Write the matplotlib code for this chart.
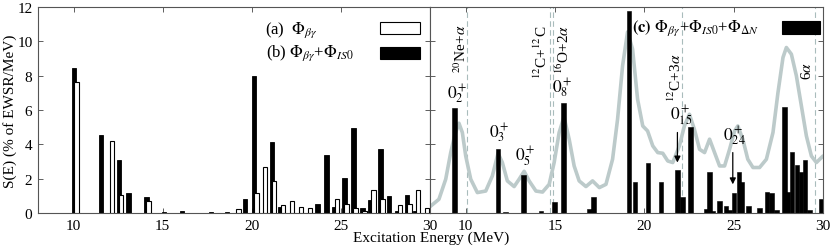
import matplotlib
matplotlib.use("Agg")
import matplotlib.pyplot as plt
from matplotlib.patches import Rectangle

plt.rcParams['font.family'] = ['Liberation Serif', 'DejaVu Serif']
plt.rcParams['mathtext.fontset'] = 'stix'

# ---- panel (a)/(b) data ----
a_E = [10.16, 12.15, 12.67, 14.19, 19.24, 20.25, 20.75, 21.26, 21.76, 22.26, 22.76, 23.27,
       24.79, 25.31, 25.82, 26.33, 26.82, 27.33, 28.33, 28.84, 29.33, 29.83]
a_S = [7.61, 4.17, 1.05, 0.68, 0.23, 1.16, 2.66, 1.84, 0.45, 0.68, 0.33, 0.29,
       0.81, 0.50, 0.31, 0.14, 1.34, 0.80, 0.47, 0.50, 1.34, 0.29]
b_E = [10.03, 11.55, 12.56, 13.07, 14.08, 15.08, 16.09, 17.71, 18.61, 19.62, 20.13, 21.13,
       21.57, 23.68, 24.19, 24.60, 25.19, 25.70, 26.20, 26.63, 27.21, 27.71, 28.15, 28.72, 29.15]
b_S = [8.43, 4.52, 3.11, 1.16, 0.95, 0.08, 0.10, 0.05, 0.05, 0.81, 7.96, 4.13,
       0.33, 0.50, 3.40, 0.35, 2.04, 4.97, 0.27, 0.74, 3.71, 0.99, 0.10, 1.03, 0.10]

# ---- panel (c) data ----
c_E = [9.38, 11.80, 12.22, 13.24, 14.20, 14.96, 15.47, 16.93, 17.14, 19.14, 19.48, 20.20,
       20.93, 21.86, 22.13, 22.58, 23.46, 23.65, 23.85, 24.21, 24.56, 24.77, 25.01, 25.31,
       25.44, 25.82, 26.45, 26.86, 27.13, 27.39, 27.84, 28.04, 28.26, 28.54, 28.77, 29.00,
       29.24, 29.92]
c_S = [6.10, 3.75, 0.05, 2.20, 0.10, 0.62, 6.43, 0.25, 0.92, 11.78, 1.81, 2.94,
       1.83, 2.53, 0.96, 5.01, 0.25, 2.41, 0.10, 0.68, 0.39, 0.15, 1.19, 2.39,
       1.81, 0.39, 0.27, 1.22, 1.17, 0.15, 6.16, 1.22, 3.54, 2.78, 2.37, 3.07,
       0.20, 0.80]

curve_E = [8.0, 8.5, 8.88, 9.16, 9.40, 9.62, 9.81, 10.0, 10.28, 10.65, 11.12, 11.49, 11.81,
           12.05, 12.33, 12.71, 12.99, 13.27, 13.55, 13.93, 14.30, 14.67, 14.95, 15.23, 15.50,
           15.79, 16.07, 16.35, 16.73, 17.10, 17.48, 17.85, 18.22, 18.50, 18.78, 19.06, 19.34,
           19.62, 19.91, 20.18, 20.47, 20.75, 21.03, 21.31, 21.59, 21.96, 22.24, 22.52, 22.80,
           23.09, 23.37, 23.65, 23.93, 24.21, 24.49, 24.77, 25.05, 25.23, 25.51, 25.79, 26.08,
           26.45, 26.83, 27.20, 27.48, 27.76, 27.95, 28.23, 28.51, 28.79, 29.07, 29.35, 29.63, 30.0]
curve_S = [0.37, 0.80, 1.97, 3.52, 4.59, 5.23, 4.69, 3.32, 1.97, 1.19, 1.28, 2.16, 3.48,
           2.94, 1.87, 1.54, 1.97, 2.43, 1.87, 1.28, 1.22, 1.67, 2.94, 4.69, 5.60,
           4.30, 2.74, 1.87, 1.54, 1.87, 1.48, 1.67, 3.13, 5.46, 8.57, 10.55, 9.54,
           6.63, 5.07, 4.78, 3.91, 3.52, 3.48, 3.03, 2.94, 3.91, 5.07, 5.75, 4.88,
           3.71, 3.52, 4.30, 3.52, 2.74, 2.74, 3.71, 4.78, 5.07, 4.30, 3.13, 2.65,
           2.65, 3.13, 4.69, 7.02, 9.06, 9.64, 9.25, 7.99, 6.24, 4.49, 3.32, 2.94, 3.32]

thresh_E = [10.05, 14.72, 14.87, 22.11, 29.53]
thresh_labels = [r'$^{20}$Ne+$\alpha$', r'$^{12}$C+$^{12}$C', r'$^{16}$O+2$\alpha$',
                 r'$^{12}$C+3$\alpha$', r'6$\alpha$']
thresh_label_E = [9.72, 14.22, 15.47, 21.72, 29.1]
thresh_label_S = [9.6, 9.4, 9.6, 7.95, 8.35]

state_labels = [r'$0^+_2$', r'$0^+_3$', r'$0^+_5$', r'$0^+_8$', r'$0^+_{15}$', r'$0^+_{24}$']
state_E = [9.55, 11.85, 13.33, 15.40, 22.06, 25.05]
state_S = [6.95, 4.72, 3.35, 7.33, 5.72, 4.50]
arrow_E = [21.85, 24.95]
arrow_top = [4.69, 3.52]
arrow_bot = [2.94, 1.67]

xticks = [10, 15, 20, 25, 30]
yticks = [0, 2, 4, 6, 8, 10, 12]

W, H = 831, 253
fig = plt.figure(figsize=(W / 100, H / 100), dpi=100)
ax1 = fig.add_axes([38 / W, 1 - 214 / H, 392 / W, 206 / H])
ax2 = fig.add_axes([430 / W, 1 - 214 / H, 393 / W, 206 / H])

bw = 0.25
ax1.bar(b_E, b_S, width=bw, color='black', edgecolor='black', linewidth=0.6, zorder=2)
ax1.bar(a_E, a_S, width=bw, color='white', edgecolor='black', linewidth=0.8, zorder=3)

ax2.plot(curve_E, curve_S, color='#bccaca', lw=2.6, zorder=1, solid_capstyle='round')
for e in thresh_E:
    ax2.axvline(e, color='#a9bcbc', lw=0.8, ls=(0, (5, 3)), zorder=0)
ax2.bar(c_E, c_S, width=bw, color='black', edgecolor='black', linewidth=0.4, zorder=2)

fs = 11
for e, s, t in zip(thresh_label_E, thresh_label_S, thresh_labels):
    ax2.text(e, s, t, rotation=90, ha='center', va='center', fontsize=11, zorder=4)
for e, s, t in zip(state_E, state_S, state_labels):
    ax2.text(e, s, t, ha='center', va='center', fontsize=12.5, zorder=4)
for e, t0, b0 in zip(arrow_E, arrow_top, arrow_bot):
    ax2.annotate('', xy=(e, b0), xytext=(e, t0),
                 arrowprops=dict(arrowstyle='-|>', color='black', lw=0.9,
                                 mutation_scale=9, shrinkA=0, shrinkB=0), zorder=4)

for ax in (ax1, ax2):
    ax.set_xlim(8, 30)
    ax.set_ylim(0, 12)
    ax.set_xticks(xticks)
    ax.set_yticks(yticks)
    ax.tick_params(direction='in', top=True, right=True, length=3.5, width=0.6,
                   labelsize=fs, colors='#444444', labelcolor='black', pad=4)
    for sp in ax.spines.values():
        sp.set_color('#555555')
        sp.set_linewidth(0.8)
ax2.set_yticklabels([])

# legends (manual)
lfs = 12
ax1.text(0.579, 0.893, r'(a)  $\Phi_{\beta\gamma}$', transform=ax1.transAxes,
         ha='left', va='center', fontsize=lfs)
ax1.text(0.581, 0.782, r'(b) $\Phi_{\beta\gamma}$+$\Phi_{IS0}$', transform=ax1.transAxes,
         ha='left', va='center', fontsize=lfs)
ax1.add_patch(Rectangle((0.872, 0.869), 0.102, 0.060, transform=ax1.transAxes,
                        facecolor='white', edgecolor='black', lw=0.8, zorder=5))
ax1.add_patch(Rectangle((0.872, 0.748), 0.102, 0.060, transform=ax1.transAxes,
                        facecolor='black', edgecolor='black', lw=0.8, zorder=5))

ax2.text(0.514, 0.901, r'$\mathbf{(c)}$ $\Phi_{\beta\gamma}$+$\Phi_{IS0}$+$\Phi_{\Delta N}$',
         transform=ax2.transAxes, ha='left', va='center', fontsize=lfs, zorder=5)
ax2.add_patch(Rectangle((0.896, 0.869), 0.097, 0.064, transform=ax2.transAxes,
                        facecolor='black', edgecolor='black', lw=0.8, zorder=5))

fig.text(10 / W, 1 - 111 / H, 'S(E) (% of EWSR/MeV)', rotation=90, ha='center', va='center',
         fontsize=fs)
fig.text(431 / W, 1 - 238 / H, 'Excitation Energy (MeV)', ha='center', va='center', fontsize=fs)

fig.savefig('out.png', dpi=100)
